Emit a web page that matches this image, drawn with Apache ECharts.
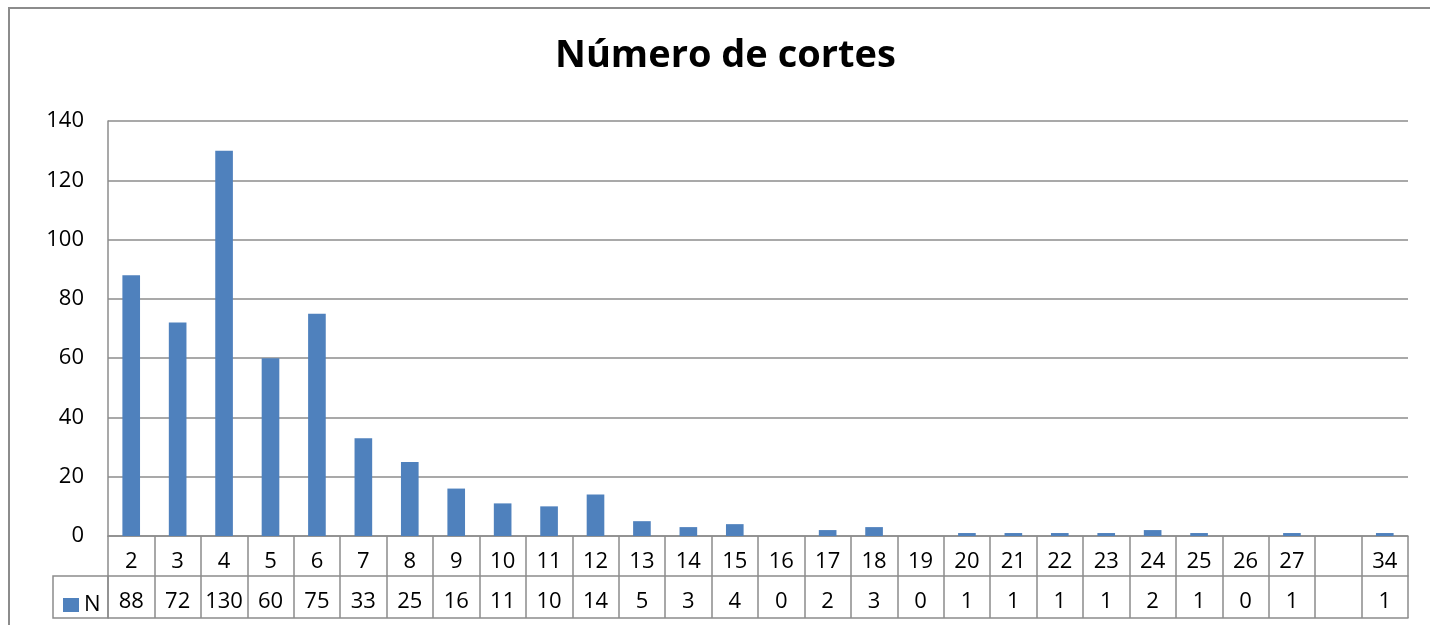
<!DOCTYPE html>
<html>
<head>
<meta charset="utf-8">
<script src="https://cdn.jsdelivr.net/npm/echarts@6/dist/echarts.min.js"></script>
<style>
  html, body { margin: 0; padding: 0; background: #fff; }
  #chart { width: 1430px; height: 625px; }
</style>
</head>
<body>
<div id="chart"></div>
<script>
// categorias (número de cortes) y frecuencias
var categorias = ['2', '3', '4', '5', '6', '7', '8', '9', '10', '11', '12', '13', '14', '15',
    '16', '17', '18', '19', '20', '21', '22', '23', '24', '25', '26', '27', '', '34'];
var valoresN = [88, 72, 130, 60, 75, 33, 25, 16, 11, 10, 14, 5, 3, 4,
    0, 2, 3, 0, 1, 1, 1, 1, 2, 1, 0, 1, null, 1];
var ticksY = [0, 20, 40, 60, 80, 100, 120, 140];

var gris = '#8c8c8c';
var fuente = '"Open Sans", "Liberation Sans", sans-serif';

var chart = echarts.init(document.getElementById('chart'));

var option = {
    animation: false,
    backgroundColor: '#fff',
    title: {
        text: 'Número de cortes',
        left: 550,
        top: 32,
        textStyle: { color: '#000', fontSize: 38, fontWeight: 'bold', fontFamily: fuente }
    },
    legend: {
        data: ['N'],
        left: 58,
        top: 589,
        itemWidth: 16,
        itemHeight: 14,
        itemGap: 4,
        icon: 'rect',
        textStyle: { color: '#000', fontSize: 22, fontFamily: fuente, padding: [0, 0, 0, 0] }
    },
    grid: { left: 108, right: 22, top: 121, bottom: 89 },
    xAxis: [
        {
            // fila de categorías
            type: 'category',
            data: categorias,
            position: 'bottom',
            axisLine: { show: true, lineStyle: { color: gris, width: 1.5 } },
            axisTick: { show: true, length: 82, lineStyle: { color: gris, width: 1.5 } },
            axisLabel: { color: '#000', fontSize: 22, fontFamily: fuente, margin: 15, interval: 0 }
        },
        {
            // fila de valores (tabla de datos)
            type: 'category',
            data: valoresN.map(function (v) { return v === null ? '' : String(v); }),
            position: 'bottom',
            offset: 40,
            axisLine: { show: true, lineStyle: { color: gris, width: 1.5 } },
            axisTick: { show: false },
            axisLabel: { color: '#000', fontSize: 22, fontFamily: fuente, margin: 15, interval: 0 }
        },
        {
            // borde inferior de la tabla
            type: 'category',
            data: categorias,
            position: 'bottom',
            offset: 82,
            axisLine: { show: true, lineStyle: { color: gris, width: 1.5 } },
            axisTick: { show: false },
            axisLabel: { show: false }
        }
    ],
    yAxis: {
        type: 'value',
        min: ticksY[0],
        max: ticksY[ticksY.length - 1],
        interval: 20,
        axisLine: { show: true, lineStyle: { color: gris, width: 1.5 } },
        axisTick: { show: false },
        axisLabel: { color: '#000', fontSize: 22, fontFamily: fuente, margin: 24 },
        splitLine: { lineStyle: { color: gris, width: 1.5 } }
    },
    graphic: [
        {
            // marco exterior del gráfico
            type: 'rect',
            shape: { x: 9, y: 8, width: 1440, height: 700 },
            style: { fill: 'none', stroke: gris, lineWidth: 2 },
            silent: true
        },
        {
            // celda de la leyenda
            type: 'rect',
            shape: { x: 53, y: 576, width: 55, height: 42 },
            style: { fill: 'none', stroke: gris, lineWidth: 1.5 },
            silent: true
        }
    ],
    series: [
        {
            name: 'N',
            type: 'bar',
            xAxisIndex: 0,
            data: valoresN,
            barWidth: '38%',
            itemStyle: { color: '#4f81bd' }
        }
    ]
};

chart.setOption(option);
</script>
</body>
</html>
